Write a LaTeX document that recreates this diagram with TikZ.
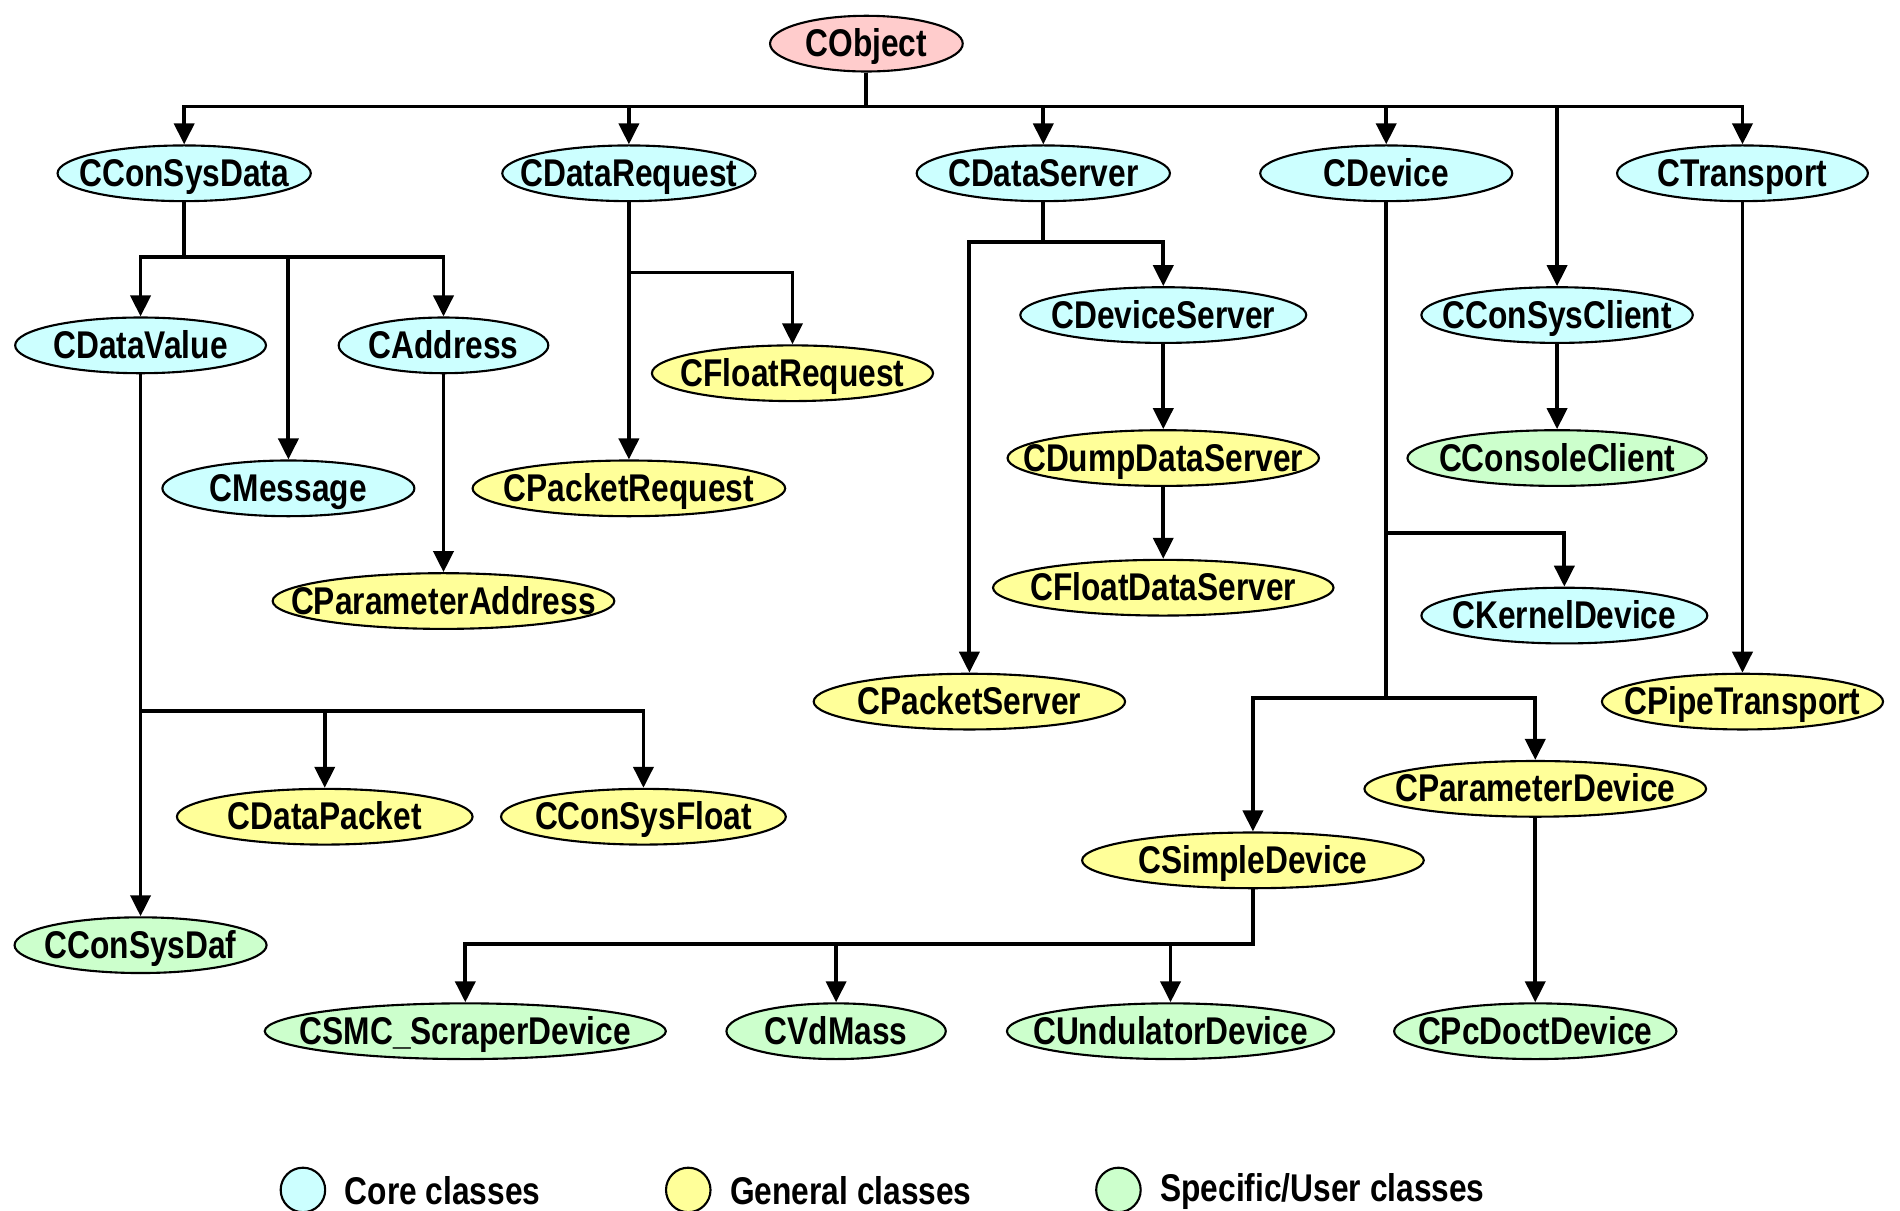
\documentclass[tikz,border=0pt]{standalone}
\usepackage{fontspec}
\setmainfont{Liberation Sans}[FakeStretch=0.82]
\usepackage{tikz}
\usetikzlibrary{shapes.geometric,arrows.meta}

\definecolor{corecol}{HTML}{CCFFFF}
\definecolor{gencol}{HTML}{FFFF99}
\definecolor{speccol}{HTML}{CCFFCC}
\definecolor{rootcol}{HTML}{FFCCCC}

\begin{document}
\begin{tikzpicture}[x=0.12117mm, y=-0.12117mm]

  \tikzstyle{cls} = [ellipse, draw, line width=0.6pt, inner sep=0pt, minimum height=5.57mm,
                     text height=3.0mm, text depth=0.4mm,
                     font=\bfseries\fontsize{11}{13}\selectfont,
                     execute at begin node={\hbox to 0pt\bgroup\hss},
                     execute at end node={\hss\egroup}]
  \tikzstyle{core} = [cls, fill=corecol]
  \tikzstyle{gen} = [cls, fill=gencol]
  \tikzstyle{spec} = [cls, fill=speccol]
  \tikzstyle{wd} = [minimum width=#1*0.12117mm]
  \tikzstyle{inh} = [line width=1.1pt, -{Triangle[length=2.1mm, width=2mm]}]
  \tikzstyle{key} = [circle, draw, line width=0.6pt, minimum size=4.45mm, inner sep=0pt]
  \tikzstyle{keytext} = [anchor=west, inner sep=0pt, font=\bfseries\fontsize{11}{13}\selectfont]

  \useasboundingbox (0,0) rectangle (1568,999);

  \node[cls, fill=rootcol, wd=159] (obj) at (715,36) {CObject};

  \node[core, wd=209] (consysdata) at (152,143) {CConSysData};
  \node[core, wd=209] (datareq) at (519,143) {CDataRequest};
  \node[core, wd=209] (dataserver) at (861,143) {CDataServer};
  \node[core, wd=208] (device) at (1144,143) {CDevice};
  \node[core, wd=207] (transport) at (1438,143) {CTransport};

  \node[core, wd=207] (datavalue) at (116,285) {CDataValue};
  \node[core, wd=173] (address) at (366,285) {CAddress};
  \node[core, wd=208] (message) at (238,403) {CMessage};
  \node[gen, wd=282] (paramaddr) at (366,496) {CParameterAddress};
  \node[gen, wd=244] (datapacket) at (268,674) {CDataPacket};
  \node[gen, wd=235] (consysfloat) at (531,674) {CConSysFloat};
  \node[spec, wd=208] (consysdaf) at (116,780) {CConSysDaf};

  \node[gen, wd=232] (floatreq) at (654,308) {CFloatRequest};
  \node[gen, wd=258] (packetreq) at (519,403) {CPacketRequest};

  \node[core, wd=236] (devserver) at (960,260) {CDeviceServer};
  \node[gen, wd=257] (dumpserver) at (960,378) {CDumpDataServer};
  \node[gen, wd=281] (floatserver) at (960,485) {CFloatDataServer};
  \node[gen, wd=257] (packetserver) at (800,579) {CPacketServer};

  \node[core, wd=224] (client) at (1285,260) {CConSysClient};
  \node[spec, wd=247] (console) at (1285,378) {CConsoleClient};
  \node[core, wd=236] (kernel) at (1291,508) {CKernelDevice};
  \node[gen, wd=232] (pipe) at (1438,579) {CPipeTransport};
  \node[gen, wd=282] (paramdev) at (1267,651) {CParameterDevice};
  \node[gen, wd=282] (simple) at (1034,710) {CSimpleDevice};

  \node[spec, wd=331] (scraper) at (384,851) {CSMC\_ScraperDevice};
  \node[spec, wd=181] (vdmass) at (690,851) {CVdMass};
  \node[spec, wd=270] (undulator) at (966,851) {CUndulatorDevice};
  \node[spec, wd=233] (pcdoct) at (1267,851) {CPcDoctDevice};

  \foreach \c in {consysdata, datareq, dataserver, device, transport, client}
    \draw[inh] (obj.south) -- ++(0,28) -| (\c.north);

  \foreach \c in {datavalue, message, address}
    \draw[inh] (consysdata.south) -- ++(0,45) -| (\c.north);
  \foreach \c in {datapacket, consysfloat}
    \draw[inh] (datavalue.south) -- ++(0,278) -| (\c.north);
  \draw[inh] (datavalue) -- (consysdaf);
  \draw[inh] (address) -- (paramaddr);

  \draw[inh] (datareq) -- (packetreq);
  \draw[inh] (datareq.south) -- ++(0,58) -| (floatreq.north);

  \foreach \c in {packetserver, devserver}
    \draw[inh] (dataserver.south) -- ++(0,33) -| (\c.north);
  \draw[inh] (devserver) -- (dumpserver);
  \draw[inh] (dumpserver) -- (floatserver);

  \draw[inh] (device.south) -- ++(0,273) -| (kernel.north);
  \foreach \c in {simple, paramdev}
    \draw[inh] (device.south) -- ++(0,409) -| (\c.north);
  \draw[inh] (paramdev) -- (pcdoct);
  \foreach \c in {scraper, vdmass, undulator}
    \draw[inh] (simple.south) -- ++(0,45) -| (\c.north);

  \draw[inh] (client) -- (console);
  \draw[inh] (transport) -- (pipe);

  \node[key, fill=corecol] (kcore) at (250,982) {};
  \node[keytext] (tcore) at (284,983) {Core classes};
  \node[key, fill=gencol] (kgen) at (568,982) {};
  \node[keytext] (tgen) at (602,983) {General classes};
  \node[key, fill=speccol] (kspec) at (923,982) {};
  \node[keytext] (tspec) at (957,983) {Specific/User classes};
\end{tikzpicture}
\end{document}
